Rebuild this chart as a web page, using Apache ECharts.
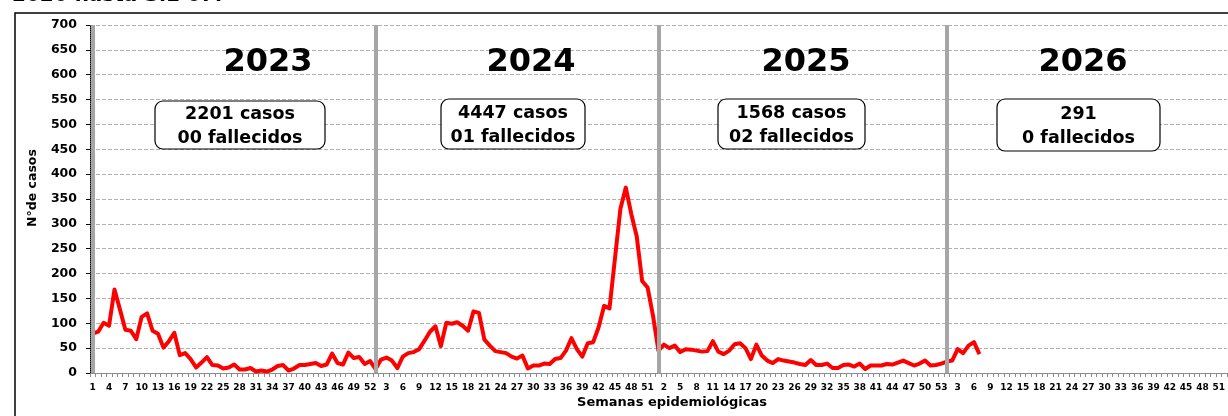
<!DOCTYPE html>
<html>
<head>
<meta charset="utf-8">
<style>
  html, body { margin: 0; padding: 0; background: #fff; }
  #chart { width: 1228px; height: 416px; }
</style>
<script src="https://cdn.jsdelivr.net/npm/echarts@6/dist/echarts.min.js"></script>
</head>
<body>
<div id="chart"></div>
<script>
const years = ['2023', '2024', '2025', '2026']
const weeksPerYear = [52, 52, 53, 52]
const cases2023 = [79, 83, 101, 95, 168, 128, 87, 85, 68, 113, 120, 85, 79, 51, 64, 81, 36, 40, 28, 11, 21, 32, 16, 15, 9, 11, 17, 7, 7, 10, 3, 5, 3, 7, 14, 16, 5, 9, 16, 16, 18, 20, 14, 17, 39, 20, 17, 41, 30, 32, 18, 24]
const cases2024 = [8, 27, 31, 25, 10, 33, 40, 42, 48, 65, 83, 94, 54, 101, 99, 102, 95, 85, 124, 121, 67, 55, 44, 42, 40, 33, 29, 35, 9, 15, 15, 19, 18, 28, 30, 45, 70, 48, 33, 60, 62, 92, 135, 130, 230, 330, 373, 320, 275, 185, 172, 115]
const cases2025 = [45, 57, 50, 55, 42, 48, 47, 45, 43, 44, 64, 43, 38, 45, 58, 60, 50, 28, 57, 35, 25, 20, 28, 25, 23, 21, 18, 16, 26, 16, 16, 19, 10, 10, 16, 17, 13, 19, 8, 15, 15, 15, 18, 17, 21, 25, 20, 15, 19, 25, 15, 16, 19]
const cases2026 = [23, 25, 48, 40, 55, 62, 38]
const totalCases = ['2201 casos', '4447 casos', '1568 casos', '291']
const totalDeaths = ['00 fallecidos', '01 fallecidos', '02 fallecidos', '0 fallecidos']

// one category per epidemiological week, all years in a row
const categories = []
const yearStarts = []
weeksPerYear.forEach((n) => {
  yearStarts.push(categories.length)
  for (let w = 1; w <= n; w++) categories.push(String(w))
})
const values = [].concat(cases2023, cases2024, cases2025, cases2026)
while (values.length < categories.length) values.push(null)

const font = 'DejaVu Sans'
const yearX = [268, 531, 806, 1083]
const boxes = [
  { x: 155, y: 101, w: 170, h: 48 },
  { x: 441, y: 99, w: 144, h: 50 },
  { x: 718, y: 99, w: 147, h: 50 },
  { x: 997, y: 99, w: 163, h: 52 }
]

const graphic = [
  {
    type: 'rect',
    shape: { x: 15, y: 13, width: 1400, height: 600 },
    style: { fill: 'none', stroke: '#000', lineWidth: 1.5 },
    z: 0
  },
  {
    type: 'text',
    left: 12,
    top: -14,
    style: { text: '2026 hasta S.E 07.', fill: '#000', font: 'bold 20px "' + font + '"' }
  },
  {
    type: 'text',
    x: 33,
    y: 188,
    rotation: Math.PI / 2,
    style: {
      text: 'N°de casos', fill: '#000', font: 'bold 12.5px "' + font + '"',
      align: 'center', verticalAlign: 'middle'
    }
  },
  {
    type: 'text',
    x: 672,
    y: 403,
    style: {
      text: 'Semanas epidemiológicas', fill: '#000', font: 'bold 13px "' + font + '"',
      align: 'center', verticalAlign: 'middle'
    }
  }
]
years.forEach((y, i) => {
  graphic.push({
    type: 'text',
    x: yearX[i],
    y: 63,
    z: 10,
    style: { text: y, fill: '#000', font: 'bold 32px "' + font + '"', align: 'center', verticalAlign: 'middle' }
  })
  const b = boxes[i]
  graphic.push({
    type: 'rect',
    z: 10,
    shape: { x: b.x, y: b.y, width: b.w, height: b.h, r: 8 },
    style: { fill: '#fff', stroke: '#000', lineWidth: 1.2 }
  })
  graphic.push({
    type: 'text',
    z: 11,
    x: b.x + b.w / 2,
    y: b.y + b.h / 2 + 1,
    style: {
      text: totalCases[i] + '\n' + totalDeaths[i],
      fill: '#000',
      font: 'bold 17.5px "' + font + '"',
      lineHeight: 24,
      align: 'center',
      verticalAlign: 'middle'
    }
  })
})

const chart = echarts.init(document.getElementById('chart'))
chart.setOption({
  animation: false,
  backgroundColor: '#fff',
  graphic: graphic,
  grid: { left: 90, top: 25, width: 1146.6, height: 348 },
  xAxis: {
    type: 'category',
    data: categories,
    boundaryGap: true,
    axisLine: { lineStyle: { color: '#8c8c8c', width: 1 } },
    axisTick: { show: true, interval: 0, length: 4, lineStyle: { color: '#8c8c8c' } },
    axisLabel: {
      interval: 2,
      margin: 10,
      color: '#000',
      fontFamily: font,
      fontWeight: 'bold',
      fontSize: 9
    },
    splitLine: { show: false }
  },
  yAxis: {
    type: 'value',
    min: 0,
    max: 700,
    interval: 50,
    axisLine: { show: true, lineStyle: { color: '#000', type: 'dotted', width: 1 } },
    axisTick: { show: true, length: 4, lineStyle: { color: '#000' } },
    axisLabel: {
      margin: 13,
      color: '#000',
      fontFamily: font,
      fontWeight: 'bold',
      fontSize: 12.5
    },
    splitLine: { lineStyle: { color: '#b0b0b0', type: [4, 2], width: 1 } }
  },
  series: [
    {
      name: 'separadores',
      type: 'line',
      data: [],
      z: 1,
      silent: true,
      markLine: {
        silent: true,
        symbol: ['none', 'none'],
        label: { show: false },
        lineStyle: { color: '#a6a6a6', width: 4, type: 'solid' },
        data: yearStarts.map((i) => ({ xAxis: i }))
      }
    },
    {
      name: 'casos',
      type: 'line',
      data: values,
      z: 3,
      showSymbol: false,
      symbol: 'none',
      connectNulls: false,
      lineStyle: { color: '#ff0000', width: 4, join: 'round' },
      itemStyle: { color: '#ff0000' }
    }
  ]
})
</script>
</body>
</html>
